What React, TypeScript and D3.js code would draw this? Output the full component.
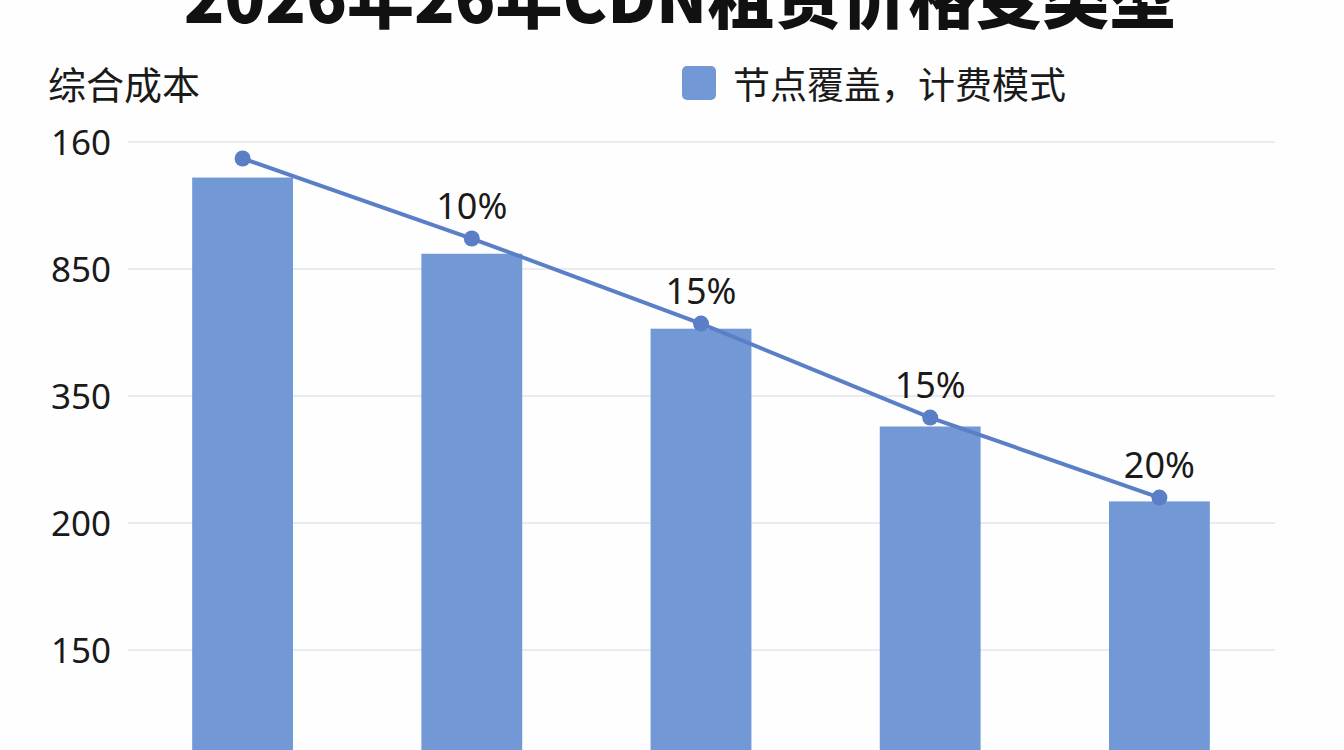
import * as d3 from "d3";

const categories = ["A", "B", "C", "D", "E"];
const barValues = [4.72, 4.12, 3.53, 2.76, 2.17];
const lineValues = [4.87, 4.24, 3.57, 2.83, 2.2];
const pointLabels = ["", "10%", "15%", "15%", "20%"];
const tickLevels = [5, 4, 3, 2, 1];
const tickLabels = ["160", "850", "350", "200", "150"];

const W = 1344;
const H = 750;
const FONT = "'Noto Sans', 'Noto Sans CJK SC', sans-serif";
const BAR = "#7398d6";
const LINE = "#5a7fc6";

export default function App() {
  const x = d3
    .scaleBand<string>()
    .domain(categories)
    .range([128, 1274])
    .paddingInner(0.56)
    .paddingOuter(0.28);

  const y = d3.scaleLinear().domain([0, 5]).range([777, 142]);

  const line = d3
    .line<number>()
    .x((_, i) => x(categories[i])! + x.bandwidth() / 2)
    .y((d) => y(d));

  return (
    <div style={{ position: "fixed", left: 0, top: 0 }}>
      <svg width={W} height={H} style={{ display: "block", background: "#fefefe" }}>
        {/* title, cropped at the top like the source */}
        <text
          x={680}
          y={23}
          textAnchor="middle"
          fontFamily="'Noto Sans CJK SC', sans-serif"
          fontWeight={900}
          fontSize={67}
          fill="#111"
        >
          2026年26年CDN租赁价格变类型
        </text>

        {/* y axis title */}
        <text x={48} y={99} fontFamily={FONT} fontSize={38} fill="#1a1a1a">
          综合成本
        </text>

        {/* legend */}
        <rect x={682} y={66} width={34} height={34} rx={5} fill={BAR} />
        <text x={733} y={99} fontFamily={FONT} fontSize={37} fill="#1a1a1a">
          节点覆盖，计费模式
        </text>

        {/* grid + tick labels */}
        {tickLevels.map((lv, i) => (
          <g key={lv}>
            <line x1={128} x2={1275} y1={y(lv)} y2={y(lv)} stroke="#e2e4e8" strokeWidth={1.5} />
            <text
              x={111}
              y={y(lv)}
              dy="0.36em"
              textAnchor="end"
              fontFamily={FONT}
              fontSize={35}
              fill="#1a1a1a"
            >
              {tickLabels[i]}
            </text>
          </g>
        ))}

        {/* bars */}
        {barValues.map((v, i) => (
          <rect
            key={categories[i]}
            x={x(categories[i])}
            y={y(v)}
            width={x.bandwidth()}
            height={y(0) - y(v)}
            fill={BAR}
          />
        ))}

        {/* trend line */}
        <path d={line(lineValues) ?? ""} fill="none" stroke={LINE} strokeWidth={4} />
        {lineValues.map((v, i) => (
          <circle
            key={categories[i]}
            cx={x(categories[i])! + x.bandwidth() / 2}
            cy={y(v)}
            r={8}
            fill={LINE}
          />
        ))}
        {lineValues.map((v, i) =>
          pointLabels[i] ? (
            <text
              key={categories[i]}
              x={x(categories[i])! + x.bandwidth() / 2}
              y={y(v) - 20}
              textAnchor="middle"
              fontFamily={FONT}
              fontSize={36}
              fill="#1a1a1a"
            >
              {pointLabels[i]}
            </text>
          ) : null
        )}
      </svg>
    </div>
  );
}
